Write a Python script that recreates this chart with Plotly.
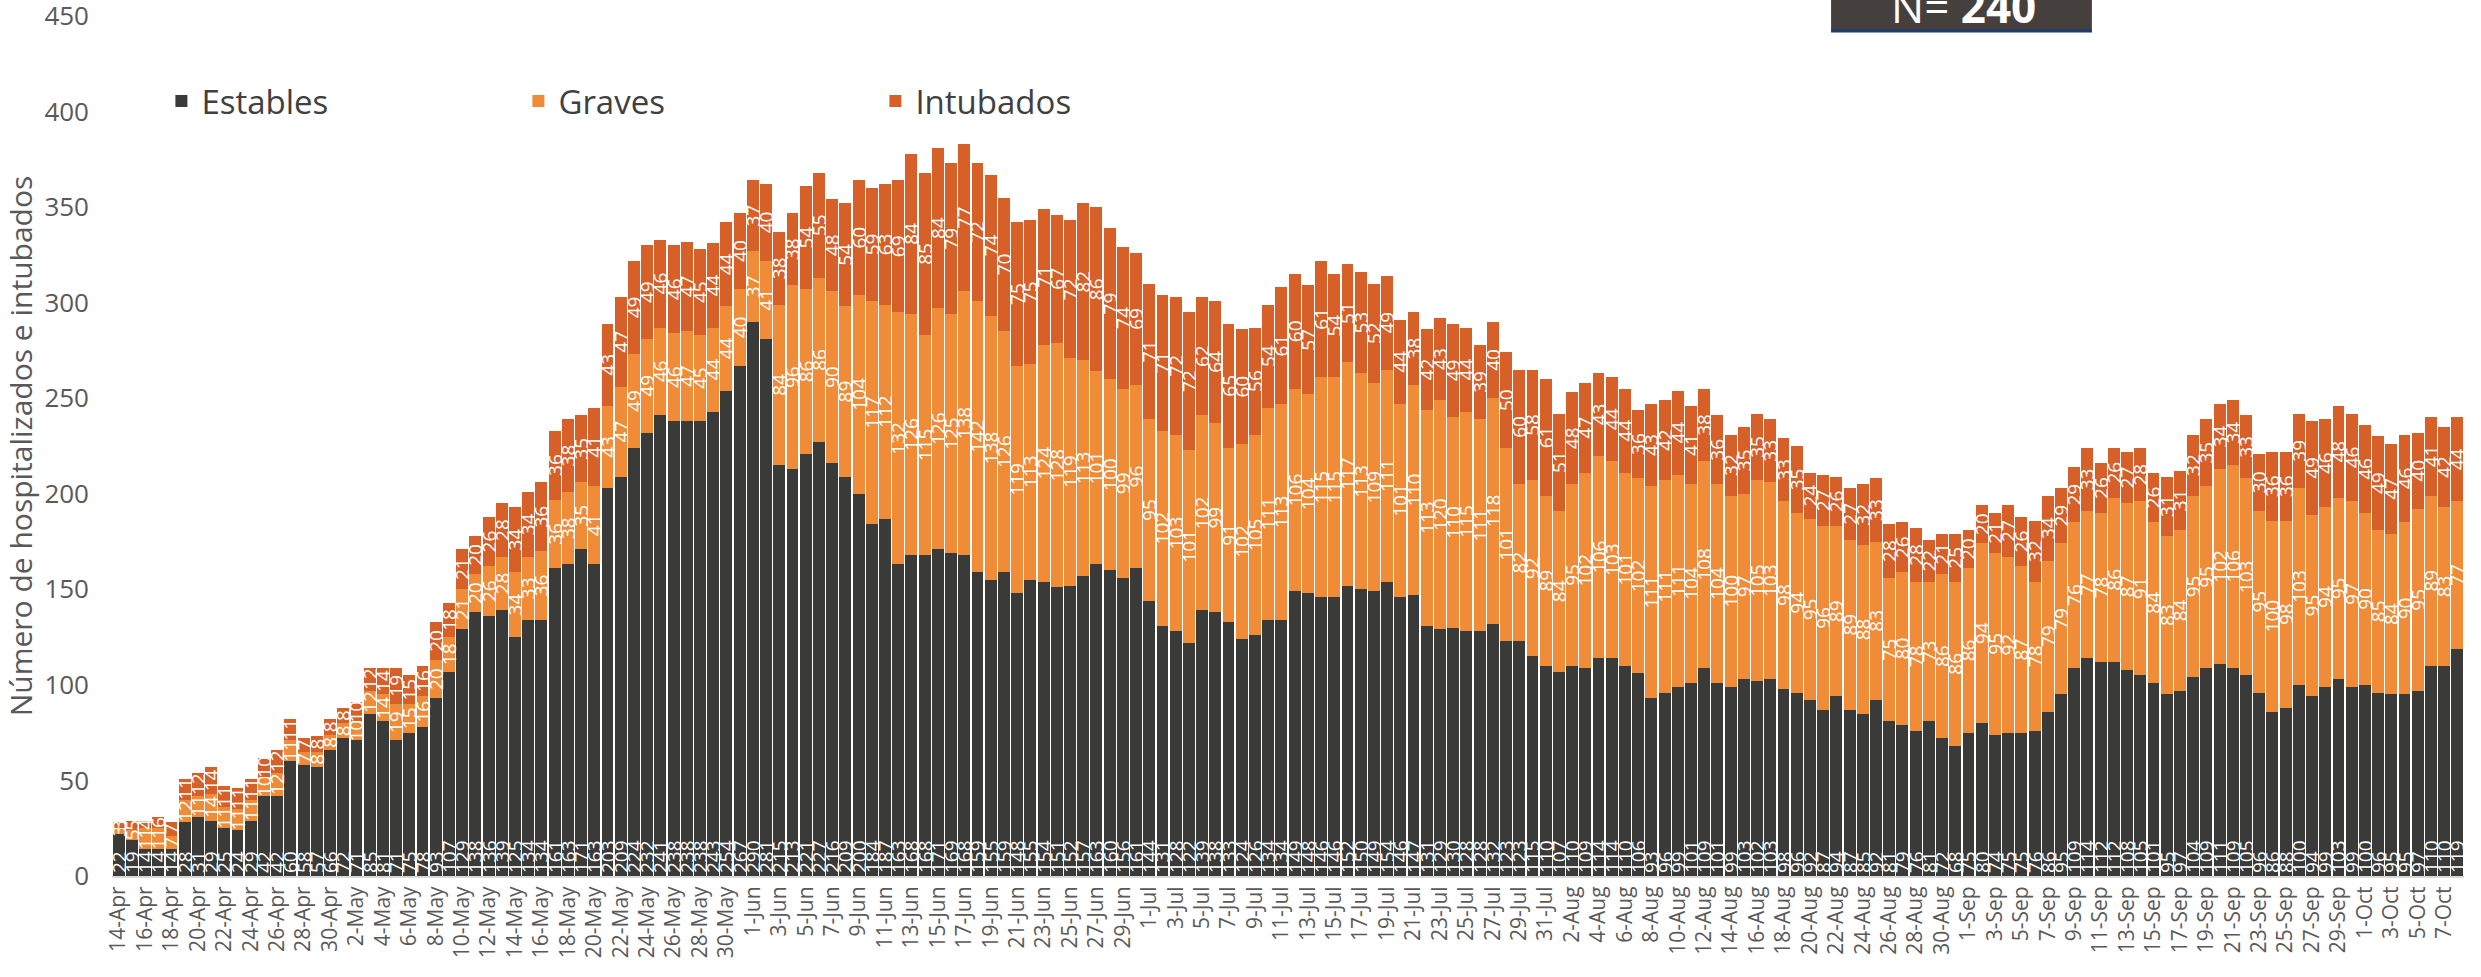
import pandas as pd
import plotly.graph_objects as go

# ---------------- data ----------------
dates = pd.date_range("2020-04-14", "2020-10-08", freq="D")
categories = [f"{d.day}-{d.strftime('%b')}" for d in dates]

estables = [22, 19, 14, 14, 14, 28, 31, 29, 25, 24, 29, 42, 42, 60, 58, 57, 66, 72, 71, 85,
            81, 71, 75, 78, 93, 107, 129, 138, 136, 139, 125, 134, 134, 161, 163, 171, 163, 203, 209, 224,
            232, 241, 238, 238, 238, 243, 254, 267, 290, 281, 215, 213, 221, 227, 216, 209, 200, 184, 187, 163,
            168, 168, 171, 169, 168, 159, 155, 159, 148, 155, 154, 151, 152, 157, 163, 160, 156, 161, 144, 131,
            128, 122, 139, 138, 133, 124, 126, 134, 134, 149, 148, 146, 146, 152, 150, 149, 154, 146, 147, 131,
            129, 130, 128, 128, 132, 123, 123, 115, 110, 107, 110, 109, 114, 114, 110, 106, 93, 96, 99, 101,
            109, 101, 99, 103, 102, 103, 98, 96, 92, 87, 94, 87, 85, 92, 81, 79, 76, 81, 72, 68,
            75, 80, 74, 75, 75, 76, 86, 95, 109, 114, 112, 112, 108, 105, 101, 95, 97, 104, 109, 111,
            109, 105, 96, 86, 88, 100, 94, 99, 103, 99, 100, 96, 95, 95, 97, 110, 110, 119]

graves = [3, 5, 11, 11, 7, 12, 11, 14, 11, 11, 11, 10, 12, 11, 7, 8, 8, 8, 10, 12,
          14, 19, 15, 16, 20, 18, 21, 20, 26, 28, 34, 33, 36, 36, 38, 35, 41, 43, 47, 49,
          49, 46, 46, 47, 45, 44, 44, 40, 37, 41, 84, 96, 86, 86, 90, 89, 104, 117, 112, 132,
          126, 115, 126, 125, 138, 142, 138, 126, 119, 113, 124, 128, 119, 113, 101, 100, 99, 96, 95, 102,
          103, 101, 102, 99, 91, 102, 105, 111, 113, 106, 104, 115, 115, 117, 113, 109, 111, 101, 110, 113,
          120, 110, 115, 111, 118, 101, 82, 92, 89, 84, 95, 102, 106, 103, 101, 102, 111, 111, 111, 104,
          108, 104, 100, 97, 105, 103, 98, 94, 95, 96, 89, 89, 88, 83, 75, 80, 78, 73, 86, 86,
          86, 94, 95, 92, 87, 78, 79, 79, 76, 77, 78, 86, 87, 91, 84, 83, 84, 95, 95, 102,
          106, 103, 95, 100, 98, 103, 95, 94, 95, 97, 90, 85, 84, 90, 95, 89, 83, 77]

intubados = [3, 5, 4, 6, 7, 11, 12, 14, 11, 11, 11, 10, 12, 11, 7, 8, 8, 8, 10, 12,
             14, 19, 15, 16, 20, 18, 21, 20, 26, 28, 34, 34, 36, 36, 38, 35, 41, 43, 47, 49,
             49, 46, 46, 47, 45, 44, 44, 40, 37, 40, 38, 38, 54, 55, 48, 54, 60, 59, 63, 69,
             84, 85, 84, 79, 77, 72, 74, 70, 75, 75, 71, 67, 72, 82, 86, 79, 74, 69, 71, 71,
             72, 72, 62, 64, 65, 60, 56, 54, 61, 60, 57, 61, 54, 51, 53, 52, 49, 44, 38, 42,
             43, 49, 44, 39, 40, 50, 60, 58, 61, 51, 48, 47, 43, 44, 44, 36, 43, 42, 44, 41,
             38, 36, 32, 35, 35, 33, 33, 35, 24, 27, 26, 27, 32, 33, 28, 26, 28, 22, 21, 25,
             20, 20, 21, 27, 26, 32, 34, 29, 29, 33, 26, 26, 27, 28, 26, 31, 31, 32, 35, 34,
             34, 33, 30, 36, 36, 39, 49, 46, 48, 46, 46, 49, 47, 46, 40, 41, 42, 44]

tick_labels = categories[::2]
total_label = "240"

# ---------------- styling ----------------
C_EST = "#3a3a38"
C_GRA = "#f08c37"
C_INT = "#d75f28"
GREY = "#595959"
FONT = "Open Sans"

fig = go.Figure()
for name, vals, col, anchor in [("Estables", estables, C_EST, "start"),
                                ("Graves", graves, C_GRA, "middle"),
                                ("Intubados", intubados, C_INT, "middle")]:
    fig.add_trace(go.Bar(
        x=categories, y=vals, name=name,
        marker=dict(color=col, line=dict(width=0)),
        text=[str(v) for v in vals], textposition="inside", textangle=-90,
        insidetextanchor=anchor,
        insidetextfont=dict(color="white", size=19, family=FONT),
        hoverinfo="x+y+name",
    ))

fig.update_layout(
    barmode="stack", bargap=0.1,
    width=2481, height=977,
    margin=dict(l=112, r=17, t=16, b=101),
    paper_bgcolor="white", plot_bgcolor="white",
    font=dict(family=FONT, color=GREY),
    uniformtext=dict(minsize=19, mode="show"),
    showlegend=True,
    legend=dict(orientation="h", x=0.021, y=0.901, xanchor="left", yanchor="middle",
                font=dict(size=33, color="#404040", family=FONT),
                entrywidth=312, entrywidthmode="pixels",
                bgcolor="rgba(0,0,0,0)", traceorder="normal"),
    xaxis=dict(type="category", categoryorder="array", categoryarray=categories,
               range=[-0.5, len(categories) - 0.5], automargin=False,
               tickmode="array", tickvals=tick_labels, ticktext=tick_labels,
               tickangle=-90, tickfont=dict(size=21, color=GREY),
               showgrid=False, showline=True, linecolor="#d9d9d9", linewidth=2,
               ticks="", zeroline=False),
    yaxis=dict(range=[0, 450], dtick=50, tick0=0, showgrid=False, zeroline=False,
               showline=False, ticks="", tickfont=dict(size=26, color=GREY),
               ticklabelstandoff=22, automargin=False, ticklabeloverflow="allow",
               title=dict(text="Número de hospitalizados e intubados",
                          font=dict(size=30, color=GREY), standoff=8)),
)

# N= box at top
fig.add_shape(type="rect", xref="paper", yref="paper",
              x0=0.7309, x1=0.8418, y0=0.9826, y1=1.05,
              fillcolor="#45403e", line=dict(width=0), layer="above")
fig.add_shape(type="line", xref="paper", yref="paper",
              x0=0.7309, x1=0.8418, y0=0.9826, y1=0.9826,
              line=dict(color="#1f3b6e", width=3), layer="above")
fig.add_annotation(xref="paper", yref="paper", x=0.787, y=0.9744,
                   xanchor="center", yanchor="bottom", showarrow=False,
                   text=f"N= <b>{total_label}</b>",
                   font=dict(size=44, color="white", family=FONT))

fig.write_html("out.html", config={"displayModeBar": False},
               post_script="document.body.style.margin='0';")
